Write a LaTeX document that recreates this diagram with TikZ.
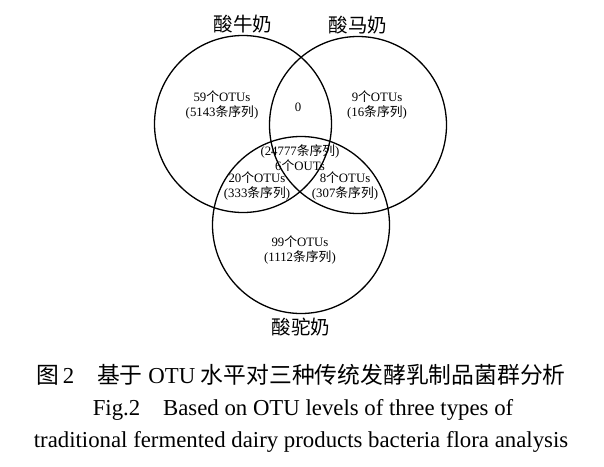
\documentclass[tikz,border=0pt]{standalone}
\usepackage{fontspec}
\setmainfont{Liberation Serif}
\newfontfamily\cjk{Noto Sans CJK SC}
\usetikzlibrary{positioning}

\newcommand{\otus}[2]{#1{\cjk 个}OTUs\\(#2{\cjk 条序列})}

\begin{document}
\begin{tikzpicture}[x=1pt, y=-1pt, every node/.style={align=center, inner sep=0pt},
  ring/.style={draw, circle, line width=1.3pt, minimum size=177pt},
  milk/.style={font=\fontsize{19.5}{21}\selectfont\cjk},
  count/.style={font=\fontsize{12.8}{15}\selectfont},
  capline/.style={font=\fontsize{22.8}{25}\selectfont}]
  \useasboundingbox (0,0) rectangle (604,466);
  % three circles
  \node[ring] (niu) at (243,124) {};
  \node[ring] (ma) at (358,125) {};
  \node[ring] (tuo) at (301,225) {};
  \node[milk, above=2pt of niu] (niulbl) {酸牛奶};
  \node[milk, above=2pt of ma] (malbl) {酸马奶};
  \node[milk, below=4pt of tuo] (tuolbl) {酸驼奶};
  % region counts
  \node[count] (niuonly) at (222,105) {\otus{59}{5143}};
  \node[count] (niuma) at (298,107) {0};
  \node[count] (maonly) at (377,105) {\otus{9}{16}};
  \node[count] (all) at (300,158) {(24777{\cjk 条序列})\\6{\cjk 个}OUTs};
  \node[count] (niutuo) at (257,186) {\otus{20}{333}};
  \node[count] (matuo) at (345,186) {\otus{8}{307}};
  \node[count] (tuoonly) at (300,250) {\otus{99}{1112}};
  % caption
  \node[capline] (cap1) at (301,375) {{\cjk 图}\,2\quad{\cjk 基于} OTU {\cjk 水平对三种传统发酵乳制品菌群分析}};
  \node[capline] (cap2) at (303,410) {Fig.2\quad Based on OTU levels of three types of};
  \node[capline] (cap3) at (301,442) {traditional fermented dairy products bacteria flora analysis};
\end{tikzpicture}
\end{document}
